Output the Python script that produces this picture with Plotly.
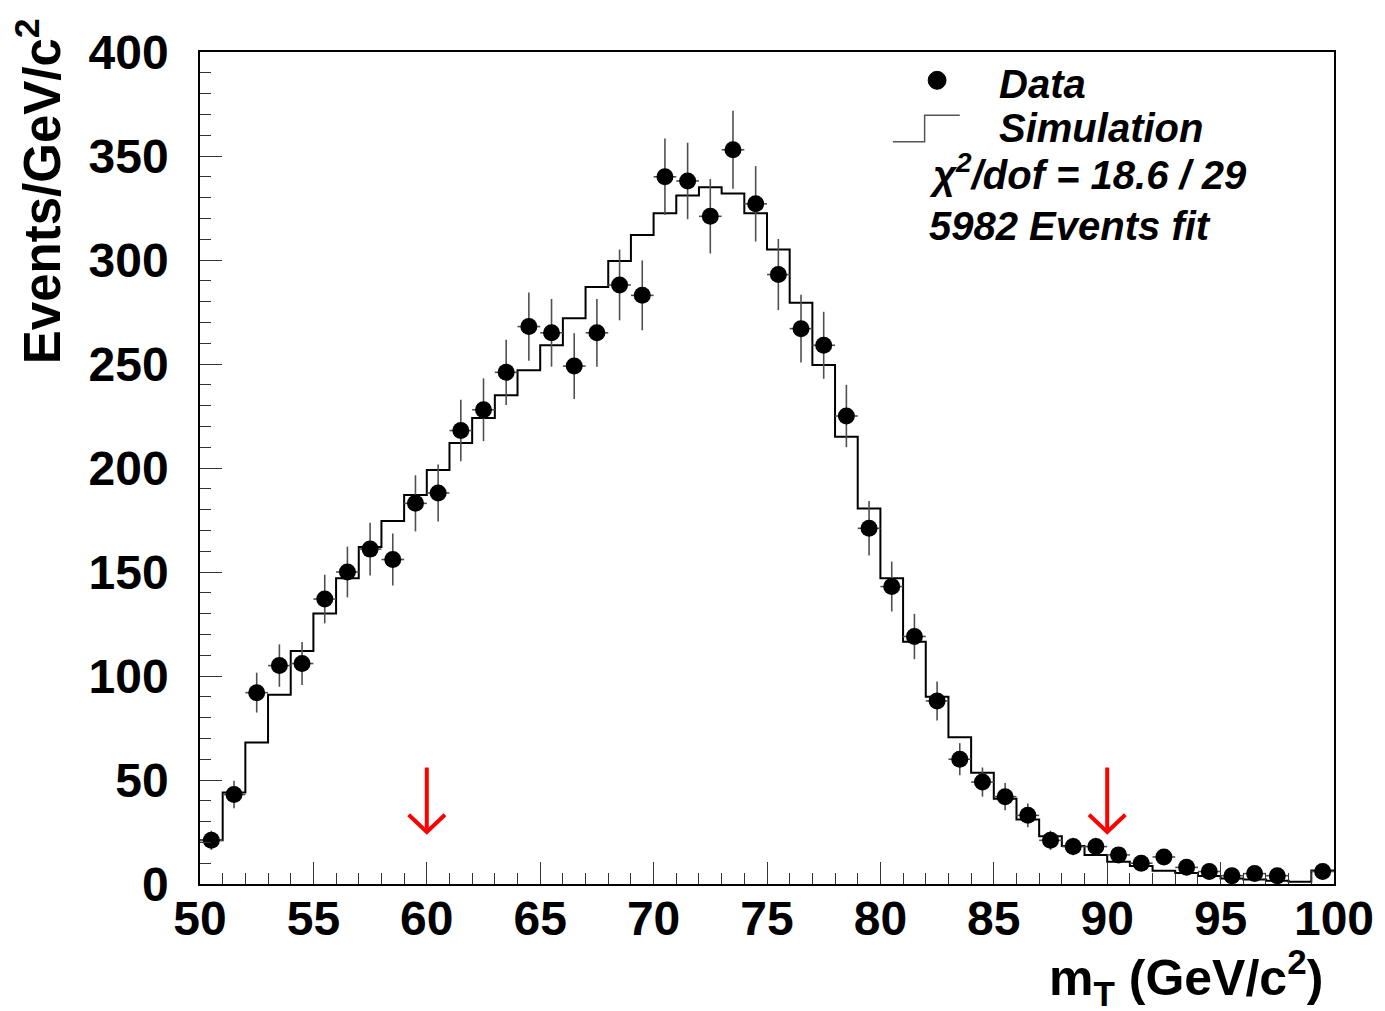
import plotly.graph_objects as go

# ---- data ----
bin_edges = list(range(50, 101))
bin_centers = [e + 0.5 for e in range(50, 100)]

data_counts = [21, 43, 92, 105, 106, 137, 150, 161, 156, 183,
               188, 218, 228, 246, 268, 265, 249, 265, 288, 283,
               340, 338, 321, 353, 327, 293, 267, 259, 225, 171,
               143, 119, 88, 60, 49, 42, 33, 21, 18, 18,
               14, 10, 13, 8, 6, 4, 5, 4, None, 6]

data_errors = [4.6, 6.6, 9.6, 10.2, 10.3, 11.7, 12.2, 12.7, 12.5, 13.5,
               13.7, 14.8, 15.1, 15.7, 16.4, 16.3, 15.8, 16.3, 17.0, 16.8,
               18.4, 18.4, 17.9, 18.8, 18.1, 17.1, 16.3, 16.1, 15.0, 13.1,
               12.0, 10.9, 9.4, 7.7, 7.0, 6.5, 5.7, 4.6, 4.2, 4.2,
               3.7, 3.2, 3.6, 2.8, 2.4, 2.0, 2.2, 2.0, None, 2.4]

sim_counts = [21, 44, 68, 91, 112, 130, 147, 162, 174.5, 187,
              199, 212, 224, 235, 247, 259, 272, 287, 299.5, 312,
              322.5, 331, 335, 332, 322.5, 305, 279.5, 249.5, 215, 180.5,
              147, 116.5, 90, 70.5, 53.5, 41, 31, 23, 18.3, 14,
              10.7, 8.7, 6.4, 5.3, 3.8, 2.7, 2.2, 1.6, 1.1, 6.5]

cut_values = [60, 90]

x_tick_vals = [50, 55, 60, 65, 70, 75, 80, 85, 90, 95, 100]
y_tick_vals = [0, 50, 100, 150, 200, 250, 300, 350, 400]

legend_lines = ["Data", "Simulation", "χ<sup>2</sup>/dof = 18.6 / 29", "5982 Events fit"]

# ---- figure ----
FONT = "Liberation Sans, Arial, Helvetica, sans-serif"

fig = go.Figure()

# simulation step histogram
fig.add_trace(go.Scatter(
    x=bin_edges,
    y=sim_counts + [sim_counts[-1]],
    mode="lines",
    line=dict(shape="hv", color="black", width=2),
    showlegend=False,
    hoverinfo="skip",
))

# data points with error bars
fig.add_trace(go.Scatter(
    x=bin_centers,
    y=data_counts,
    mode="markers",
    marker=dict(color="black", size=17, symbol="circle"),
    error_y=dict(type="data", array=data_errors, visible=True,
                 color="#505050", thickness=1.6, width=0),
    error_x=dict(type="constant", value=0.5, visible=True,
                 color="#505050", thickness=1.6, width=0),
    showlegend=False,
))

# red cut arrows (open V heads)
arrow_top, arrow_tip, wing_dx, wing_dy = 56, 25, 0.8, 8.3
shapes = []
for c in cut_values:
    shapes.append(dict(type="line", xref="x", yref="y", x0=c, x1=c,
                       y0=arrow_top, y1=arrow_tip + 0.5, line=dict(color="red", width=4)))
    shapes.append(dict(type="path", xref="x", yref="y",
                       path=f"M {c - wing_dx} {arrow_tip + wing_dy} L {c} {arrow_tip} L {c + wing_dx} {arrow_tip + wing_dy}",
                       line=dict(color="red", width=4)))

# legend decorations (paper coords)
shapes.append(dict(type="circle", xref="paper", yref="paper",
                   x0=0.650 - 0.0079, x1=0.650 + 0.0079,
                   y0=0.966 - 0.0108, y1=0.966 + 0.0108,
                   fillcolor="black", line=dict(color="black", width=1)))
shapes.append(dict(type="path", xref="paper", yref="paper",
                   path="M 0.611 0.892 L 0.639 0.892 L 0.639 0.924 L 0.670 0.924",
                   line=dict(color="#555555", width=1.5)))

annotations = []
leg_pos = [(0.703, 0.962), (0.703, 0.909), (0.641, 0.856), (0.641, 0.791)]
for txt, (lx, ly) in zip(legend_lines, leg_pos):
    annotations.append(dict(text=txt, xref="paper", yref="paper", x=lx, y=ly,
                            xanchor="left", yanchor="middle", showarrow=False,
                            font=dict(family=FONT, size=40, color="black",
                                      weight="bold", style="italic")))

# axis titles
annotations.append(dict(text="Events/GeV/c<sup>2</sup>", xref="paper", yref="paper",
                        x=-0.142, y=1.043, xanchor="center", yanchor="top",
                        textangle=-90, showarrow=False,
                        font=dict(family=FONT, size=51, color="black", weight="bold")))
annotations.append(dict(text="m<sub>T</sub> (GeV/c<sup>2</sup>)", xref="paper", yref="paper",
                        x=0.992, y=-0.112, xanchor="right", yanchor="middle",
                        showarrow=False,
                        font=dict(family=FONT, size=50, color="black", weight="bold")))

axis_common = dict(
    showgrid=False, zeroline=False,
    showline=True, linecolor="black", linewidth=1.5, mirror=True,
    ticks="inside", ticklen=22, tickcolor="#333333", tickwidth=1.2,
    tickfont=dict(family=FONT, size=48, color="black", weight="bold"),
)

fig.update_xaxes(range=[50, 100], tickvals=x_tick_vals,
                 minor=dict(dtick=1, ticks="inside", ticklen=11, tickcolor="#333333", tickwidth=1.2),
                 ticklabelstandoff=-8, **axis_common)
fig.update_yaxes(range=[0, 400], tickvals=y_tick_vals,
                 minor=dict(dtick=10, ticks="inside", ticklen=11, tickcolor="#333333", tickwidth=1.2),
                 ticklabelstandoff=20, **axis_common)

fig.update_layout(
    width=1385, height=1011,
    margin=dict(l=192, r=59, t=44, b=135),
    paper_bgcolor="white", plot_bgcolor="white",
    shapes=shapes, annotations=annotations,
    showlegend=False,
)

fig.write_html("out.html")
